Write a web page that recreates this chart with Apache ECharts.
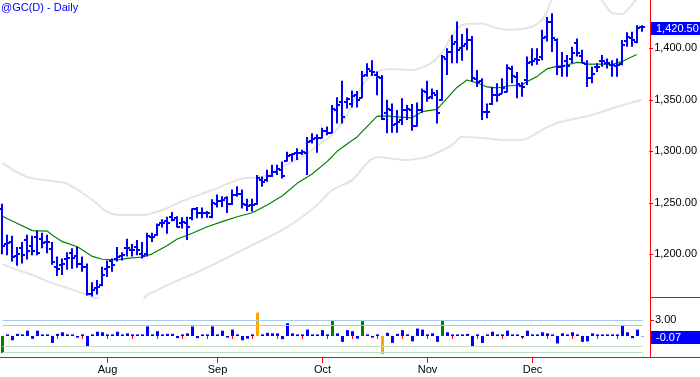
<!DOCTYPE html>
<html>
<head>
<meta charset="utf-8">
<script src="https://cdn.jsdelivr.net/npm/echarts@6/dist/echarts.min.js"></script>
<style>
  html, body { margin: 0; padding: 0; background: #fff; }
  #chart { width: 700px; height: 377px; }
</style>
</head>
<body>
<div id="chart"></div>
<script>
// @GC daily bars, Jul 2010 .. early Jan 2011
const startDay = '2010-07-01';
const holidays = ['2010-07-05', '2010-09-06', '2010-11-25', '2010-12-24'];
const monthLabels = ['Aug', 'Sep', 'Oct', 'Nov', 'Dec'];
const monthNames = ['Jan', 'Feb', 'Mar', 'Apr', 'May', 'Jun', 'Jul', 'Aug', 'Sep', 'Oct', 'Nov', 'Dec'];

const opens = [
  1244, 1210, 1212, 1198, 1206, 1214, 1208, 1217, 1215, 1212,
  1205, 1188, 1190, 1195, 1201, 1198, 1191, 1188, 1161, 1167,
  1170, 1186, 1194, 1195, 1198, 1206, 1204, 1207, 1200, 1200,
  1217, 1219, 1230, 1232, 1236, 1235, 1230, 1230, 1235, 1244,
  1240, 1240, 1236, 1249, 1252, 1255, 1249, 1258, 1259, 1248,
  1248, 1249, 1272, 1272, 1276, 1280, 1282, 1291, 1296, 1298,
  1298, 1298, 1310, 1313, 1313, 1320, 1318, 1340, 1348, 1348,
  1346, 1355, 1352, 1374, 1378, 1374, 1371, 1337, 1340, 1327,
  1330, 1340, 1340, 1325, 1340, 1358, 1353, 1355, 1350, 1390,
  1396, 1406, 1400, 1404, 1408, 1370, 1368, 1338, 1346, 1355,
  1356, 1358, 1380, 1372, 1363, 1369, 1387, 1390, 1392, 1411,
  1426, 1408, 1382, 1388, 1390, 1405, 1393, 1385, 1371, 1382,
  1388, 1386, 1384, 1383, 1385, 1407, 1410, 1406, 1421
];
const highs = [
  1249, 1219, 1218, 1207, 1212, 1219, 1218, 1223, 1221, 1219,
  1212, 1198, 1196, 1202, 1206, 1207, 1198, 1191, 1173, 1175,
  1188, 1194, 1196, 1207, 1202, 1215, 1210, 1214, 1212, 1221,
  1221, 1230, 1234, 1236.5, 1241, 1237, 1236, 1236.5, 1244.5, 1246,
  1245.5, 1242, 1253.5, 1258, 1256.5, 1256.5, 1263, 1266, 1263, 1254,
  1254, 1277, 1275.5, 1282, 1287, 1287, 1290, 1299.5, 1298, 1303,
  1301.5, 1314, 1317.5, 1316.5, 1323, 1324, 1345, 1352.5, 1368.5, 1352.5,
  1359, 1358.5, 1378, 1385.5, 1388.5, 1377.5, 1374, 1350, 1346.5, 1340,
  1351.5, 1345, 1346, 1347.5, 1361, 1368.5, 1361, 1359.5, 1393.5, 1400,
  1413, 1426, 1414, 1419.5, 1412, 1379, 1371, 1346.5, 1362.5, 1366,
  1371, 1384.5, 1383, 1377, 1367, 1392, 1400, 1400, 1418, 1430.5,
  1434, 1409.5, 1396.5, 1393.5, 1401.5, 1409.5, 1398.5, 1388.5, 1382, 1385.5,
  1393.5, 1390, 1388.5, 1390, 1408, 1415.5, 1416, 1422.5, 1422.5
];
const lows = [
  1200, 1199, 1193, 1189, 1191, 1195, 1199, 1199, 1206, 1201,
  1190, 1179, 1180, 1185, 1186, 1187, 1183, 1160, 1159, 1161,
  1169, 1178, 1183, 1193, 1194, 1198, 1198, 1199, 1196, 1198,
  1212, 1218, 1226, 1220, 1232, 1226, 1225, 1214, 1233, 1235,
  1235, 1235.5, 1235, 1245.5, 1246, 1240, 1248, 1256, 1244.5, 1242,
  1241.5, 1248, 1265.5, 1270.5, 1275, 1277, 1273.5, 1290, 1290, 1291.5,
  1296.5, 1277, 1307.5, 1298.5, 1312.5, 1315.5, 1317.5, 1327, 1327, 1341.5,
  1342.5, 1342.5, 1351.5, 1372.5, 1373, 1354.5, 1330.5, 1317.5, 1318, 1318,
  1325.5, 1330.5, 1320, 1324, 1337.5, 1348, 1350.5, 1327, 1349, 1374,
  1385.5, 1385.5, 1388, 1398, 1367.5, 1362.5, 1330.5, 1332, 1345, 1348,
  1356, 1357, 1366, 1351.5, 1353, 1364.5, 1383, 1384, 1388.5, 1406.5,
  1396.5, 1374, 1372.5, 1372.5, 1385.5, 1392, 1385.5, 1362.5, 1366, 1377,
  1382, 1380.5, 1372.5, 1372.5, 1383.5, 1401.5, 1401.5, 1405, 1416
];
const closes = [
  1208, 1211, 1197, 1200, 1199, 1203, 1203, 1201, 1211, 1212,
  1193, 1186, 1191, 1196, 1196, 1191, 1188, 1161, 1165, 1168,
  1180, 1188, 1190, 1197, 1199, 1206, 1204, 1204, 1198, 1218,
  1217, 1228, 1230, 1230, 1233, 1227, 1231, 1227, 1244, 1240,
  1240, 1240, 1250, 1252, 1253, 1249, 1258, 1259, 1249, 1247,
  1248, 1274, 1270, 1276, 1280, 1283, 1276, 1295, 1297, 1298,
  1299, 1309, 1312, 1313, 1320, 1318, 1341, 1345, 1333, 1351,
  1354, 1350, 1373, 1380, 1377, 1372, 1331, 1341, 1326, 1328,
  1340, 1341, 1325, 1340, 1359, 1352, 1357, 1337, 1392, 1396,
  1404, 1398, 1402, 1408, 1371, 1367, 1338, 1338, 1355, 1355,
  1361, 1381, 1373, 1365, 1362, 1386, 1388, 1389, 1410, 1426,
  1410, 1382, 1383, 1383, 1395, 1395, 1386, 1371, 1375, 1382,
  1388, 1386, 1384, 1384, 1403, 1411, 1408, 1420, 1420.5
];

// lower panel oscillator
const sigma = [
  -3.2, 0.3, -0.8, 0.4, 0.3, 1.0, -0.5, 1.0, 0.3, 0.3,
  -1.3, 0.4, 0.7, 0.3, 0.3, -0.3, 0.3, -1.9, 0.3, 0.8,
  0.7, 0.3, 0.3, 0.8, 0.3, 0.5, 0.3, 0.3, 0.3, 1.8,
  0.3, 0.9, 0.3, 0.4, 0.4, -0.4, 0.3, 0.5, 1.8, -0.4,
  0.3, 0.3, 1.8, 0.3, 1.0, -0.3, 1.2, 0.3, -0.8, -0.5,
  0.3, 4.4, 0.3, 0.6, 0.5, 0.5, -0.6, 2.4, 0.5, 0.3,
  0.3, 1.2, 0.3, 0.3, 1.1, 0.3, 2.9, 0.5, -1.1, 1.1,
  0.9, -0.5, 2.8, 0.3, -0.3, 0.3, -3.4, 0.6, -1.3, 0.4,
  1.1, 0.3, -1.0, 1.4, 1.2, 0.3, 0.5, -1.1, 3.0, 0.7,
  0.3, 0.3, 0.3, 0.4, -1.9, 0.3, -1.3, 0.3, 0.8, 0.3,
  0.3, 1.0, 0.3, 0.3, -0.3, 1.0, 0.3, 0.3, 0.7, 0.5,
  0.3, -1.4, 0.5, 0.3, 0.7, 0.3, -1.1, -1.0, 0.5, 0.3,
  0.3, 0.3, 0.3, 0.3, 2.0, 0.7, -0.4, 1.2, -0.07
];
const sigmaLevels = [3, 2, -2, -3];

// moving average and envelope, read at sample bars
const avgLine = [
  [0, 1237], [3, 1230], [6, 1223], [9, 1222.5], [10, 1218.5], [12, 1212.3], [15, 1207.4],
  [18, 1198], [20, 1195.2], [23, 1194.5], [25, 1196], [28, 1197.4], [30, 1200.5], [33, 1208.5],
  [35, 1214.9], [38, 1220.4], [41, 1226.8], [44, 1231.7], [47, 1236.5], [50, 1240.4],
  [53, 1247.9], [56, 1256.6], [59, 1268.9], [62, 1278], [65, 1290], [67, 1300], [69, 1307],
  [71, 1314], [73, 1324], [75, 1334], [77, 1334.5], [79, 1333.5], [82, 1332.5], [84, 1338.5],
  [87, 1340.8], [89, 1351.4], [91, 1362], [93, 1369.2], [95, 1366.5], [97, 1362.5],
  [99, 1361.5], [101, 1363.4], [104, 1364.4], [105, 1367.6], [107, 1372.5], [109, 1380],
  [111, 1382.5], [113, 1383.8], [115, 1386.3], [116, 1386], [117, 1384.6], [120, 1384.6],
  [122, 1384.2], [124, 1387], [127, 1394]
];
const upperBand = [
  [0, 1288.6], [5, 1275], [10, 1271.2], [13, 1268.3], [18, 1252.8], [21, 1241.1], [24, 1238.2],
  [28, 1238.2], [32, 1243], [36, 1251.8], [42, 1262.4], [48, 1273.6], [52, 1275.1], [56, 1284.8],
  [60, 1294.5], [64, 1309], [66, 1316], [69, 1335], [72, 1364], [75, 1377], [78, 1380],
  [82, 1379], [86, 1386], [88, 1396], [90, 1412], [92, 1422.5], [96, 1424], [99, 1419.5],
  [102, 1418], [106, 1421], [108, 1427.5], [109, 1435], [110, 1447], [113, 1458], [116, 1461],
  [119, 1452], [120, 1447], [122, 1434.5], [124, 1433.3], [126, 1442], [128, 1456]
];
const lowerBand = [
  [0, 1190.5], [3, 1185], [6, 1180], [10, 1172], [13, 1167.3], [16, 1162.4], [20, 1155],
  [24, 1150], [28, 1155.6], [29, 1160.5], [31, 1165.3], [33, 1170.2], [40, 1184.8], [46, 1199.3],
  [50, 1209], [56, 1223.6], [60, 1236.2], [63, 1248], [66, 1262.4], [70, 1272], [73, 1288.6],
  [75, 1294.5], [77, 1293.5], [81, 1291.6], [84, 1293.5], [86, 1296.4], [90, 1306], [92, 1314],
  [96, 1313], [100, 1311], [104, 1311], [108, 1320.6], [111, 1327.5], [118, 1335.2],
  [123, 1343], [128, 1350]
];

const priceTicks = [1200, 1250, 1300, 1350, 1400];
const sigmaTicks = [3];

// trading days
const days = [];
const dt = new Date(startDay + 'T00:00:00Z');
while (days.length < closes.length) {
  const s = dt.toISOString().slice(0, 10);
  const wd = dt.getUTCDay();
  if (wd !== 0 && wd !== 6 && holidays.indexOf(s) < 0) days.push(s);
  dt.setUTCDate(dt.getUTCDate() + 1);
}
const monthOf = (i) => monthNames[+days[i].slice(5, 7) - 1];
const isMonthStart = (i) => i > 0 && days[i].slice(5, 7) !== days[i - 1].slice(5, 7) && monthLabels.indexOf(monthOf(i)) >= 0;
const dow = (i) => new Date(days[i] + 'T00:00:00Z').getUTCDay();
const isWeekStart = (i) => i > 0 && dow(i) < dow(i - 1) && days[i] < '2011-01-01';

const ohlc = closes.map((c, i) => [i, opens[i], highs[i], lows[i], c]);
const FONT = 'Arial, "Liberation Sans", sans-serif';
const RED = '#ff0000';
const BLUE = '#0000ff';

function renderOhlc(params, api) {
  const i = api.value(0);
  const x = Math.round(api.coord([i, 0])[0]);
  const yO = Math.round(api.coord([i, api.value(1)])[1]);
  const yH = api.coord([i, api.value(2)])[1];
  const yL = api.coord([i, api.value(3)])[1];
  const yC = Math.round(api.coord([i, api.value(4)])[1]);
  const st = { stroke: BLUE, lineWidth: 2 };
  return {
    type: 'group',
    children: [
      { type: 'line', shape: { x1: x, y1: yH, x2: x, y2: yL }, style: st },
      { type: 'line', shape: { x1: x - 3, y1: yO, x2: x, y2: yO }, style: st },
      { type: 'line', shape: { x1: x, y1: yC, x2: x + 3, y2: yC }, style: st }
    ]
  };
}

const chart = echarts.init(document.getElementById('chart'));

const option = {
  animation: false,
  backgroundColor: '#fff',
  title: {
    text: '@GC(D) - Daily', left: 1, top: 2, padding: 0,
    textStyle: { color: BLUE, fontSize: 11, fontWeight: 'normal', fontFamily: FONT }
  },
  grid: [
    { left: -1, width: 646, top: 0, height: 298 },
    { left: -1, width: 646, top: 298, height: 59 }
  ],
  xAxis: [
    { type: 'category', gridIndex: 0, data: days, show: false },
    {
      type: 'category', gridIndex: 1, data: days, position: 'bottom',
      axisLine: { show: false },
      axisTick: { show: true, alignWithLabel: true, interval: (i) => isWeekStart(i), length: 3, lineStyle: { color: RED } },
      axisLabel: { show: false }
    },
    {
      type: 'category', gridIndex: 1, data: days, position: 'bottom',
      axisLine: { show: false },
      axisTick: { show: true, alignWithLabel: true, interval: (i) => isMonthStart(i), length: 6, lineStyle: { color: RED } },
      axisLabel: {
        interval: (i) => isMonthStart(i),
        formatter: (v) => monthNames[+v.slice(5, 7) - 1],
        color: '#000', fontSize: 11, fontFamily: FONT, margin: 7
      }
    }
  ],
  yAxis: [
    {
      type: 'value', gridIndex: 0, position: 'right', offset: 5,
      min: 1157.6, max: 1446.9,
      splitLine: { show: false },
      axisLine: { show: false },
      axisTick: { show: true, customValues: priceTicks, length: 4, lineStyle: { color: RED } },
      axisLabel: {
        customValues: priceTicks, margin: 5, color: '#000', fontSize: 11, fontFamily: FONT,
        formatter: (v) => v.toLocaleString('en-US', { minimumFractionDigits: 2, maximumFractionDigits: 2 })
      }
    },
    {
      type: 'value', gridIndex: 1, position: 'right', offset: 5,
      min: -3.94, max: 7.13,
      splitLine: { show: false },
      axisLine: { show: false },
      axisTick: { show: true, customValues: sigmaTicks, length: 4, lineStyle: { color: RED } },
      axisLabel: {
        customValues: sigmaTicks, margin: 5, color: '#000', fontSize: 11, fontFamily: FONT,
        formatter: (v) => v.toFixed(2)
      }
    }
  ],
  series: [
    {
      name: 'upper', type: 'line', xAxisIndex: 0, yAxisIndex: 0, data: upperBand,
      symbol: 'none', smooth: 0.3, lineStyle: { color: '#e4e4e4', width: 2 }, z: 1
    },
    {
      name: 'lower', type: 'line', xAxisIndex: 0, yAxisIndex: 0, data: lowerBand,
      symbol: 'none', smooth: 0.3, lineStyle: { color: '#e4e4e4', width: 2 }, z: 1
    },
    {
      name: 'avg', type: 'line', xAxisIndex: 0, yAxisIndex: 0, data: avgLine,
      symbol: 'none', lineStyle: { color: '#008000', width: 1.2 }, z: 2
    },
    {
      name: 'price', type: 'custom', xAxisIndex: 0, yAxisIndex: 0, data: ohlc,
      renderItem: renderOhlc, encode: { x: 0, y: [1, 2, 3, 4] }, z: 3
    },
    {
      name: 'sigma', type: 'bar', xAxisIndex: 2, yAxisIndex: 1, data: sigma, barWidth: 3,
      itemStyle: {
        color: (p) => Math.abs(p.value) > 3.3 ? '#ffa500' : (Math.abs(p.value) >= 2.75 ? '#008000' : BLUE)
      },
      markLine: {
        silent: true, symbol: 'none', label: { show: false },
        data: sigmaLevels.map((v) => [
          { coord: [0, v], lineStyle: { color: v > 0 ? '#a6caf0' : '#c0dcc0', width: 1, type: 'solid' } },
          { coord: [days.length - 1, v] }
        ])
      },
      z: 3
    }
  ]
};

chart.setOption(option);

// frame and last-value boxes
const yPrice = chart.convertToPixel({ yAxisIndex: 0 }, closes[closes.length - 1]);
const ySigma = chart.convertToPixel({ yAxisIndex: 1 }, sigma[sigma.length - 1]);
const fmt2 = (v) => v.toLocaleString('en-US', { minimumFractionDigits: 2, maximumFractionDigits: 2 });

chart.setOption({
  graphic: [
    { type: 'line', shape: { x1: 650.5, y1: 0, x2: 650.5, y2: 357 }, style: { stroke: RED, lineWidth: 1 }, z: 10 },
    { type: 'line', shape: { x1: 0, y1: 357.5, x2: 700, y2: 357.5 }, style: { stroke: RED, lineWidth: 1 }, z: 10 },
    { type: 'line', shape: { x1: 650, y1: 297.5, x2: 700, y2: 297.5 }, style: { stroke: RED, lineWidth: 1 }, z: 10 },
    { type: 'rect', shape: { x: 651, y: Math.round(yPrice) - 5, width: 49, height: 13 }, style: { fill: BLUE }, z: 11 },
    {
      type: 'text', x: 656, y: Math.round(yPrice) + 1.5, z: 12,
      style: { text: fmt2(closes[closes.length - 1]), fill: '#fff', font: '11px ' + FONT, textVerticalAlign: 'middle' }
    },
    { type: 'rect', shape: { x: 651, y: Math.round(ySigma) - 5, width: 49, height: 13 }, style: { fill: BLUE }, z: 11 },
    {
      type: 'text', x: 656, y: Math.round(ySigma) + 1.5, z: 12,
      style: { text: sigma[sigma.length - 1].toFixed(2), fill: '#fff', font: '11px ' + FONT, textVerticalAlign: 'middle' }
    }
  ]
});
</script>
</body>
</html>
